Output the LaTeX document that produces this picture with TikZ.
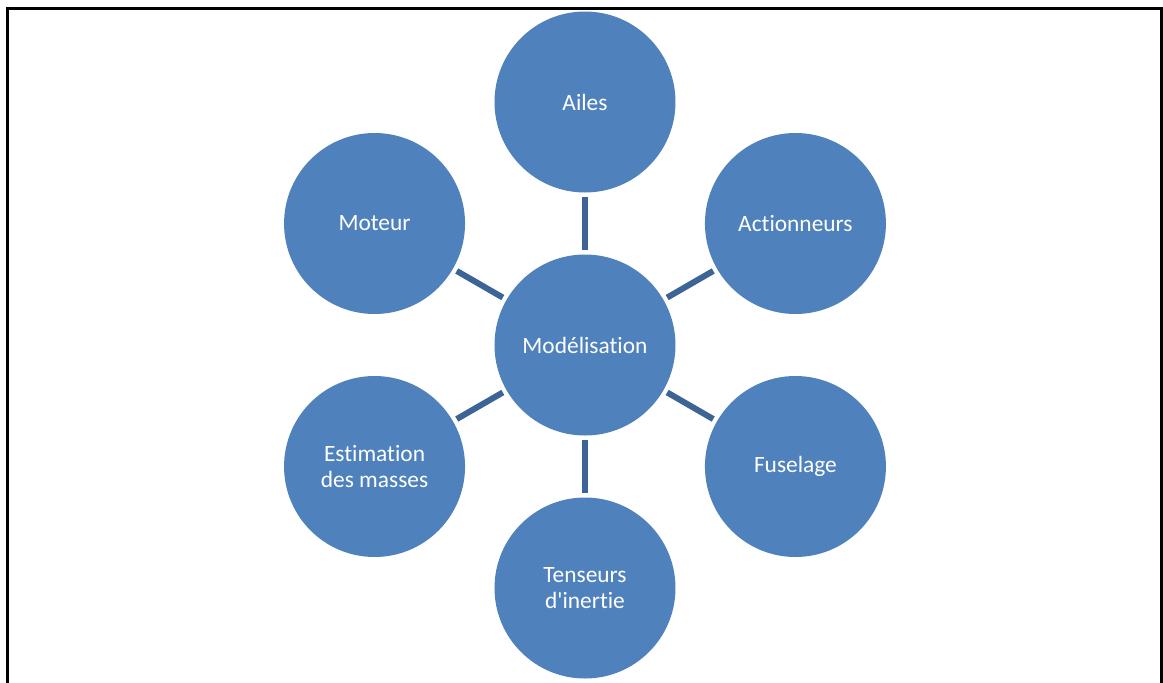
\documentclass[tikz,border=0pt]{standalone}
\usepackage{fontspec}
\setmainfont{Carlito}[Ligatures={NoCommon}]
\definecolor{bulle}{HTML}{4F81BD}
\definecolor{lien}{HTML}{3C6496}
\begin{document}
\begin{tikzpicture}[x=0.5pt,y=0.5pt,
    bulle/.style={circle,fill=bulle,text=white,minimum size=90.5pt,inner sep=0pt,
      align=center,font=\fontsize{11.7}{13}\selectfont},
    lien/.style={draw=lien,line width=3pt,shorten <=2pt,shorten >=2pt}]
  \useasboundingbox (-585,-337) rectangle (578,345);
  \draw[line width=1.5pt] (-577,-345) -- (-577,337) -- (576,337) -- (576,-345);
  \node[bulle] (mod) at (0,0) {Modélisation};
  \node[bulle] (ailes) at (90:243) {Ailes};
  \node[bulle] (act) at (30:243) {Actionneurs};
  \node[bulle] (fus) at (-30:243) {Fuselage};
  \node[bulle] (tens) at (-90:243) {Tenseurs\\d\textquotesingle inertie};
  \node[bulle] (masses) at (210:243) {Estimation\\des masses};
  \node[bulle] (moteur) at (150:243) {Moteur};
  \foreach \n in {ailes,act,fus,tens,masses,moteur}
    \draw[lien] (mod) -- (\n);
\end{tikzpicture}
\end{document}
